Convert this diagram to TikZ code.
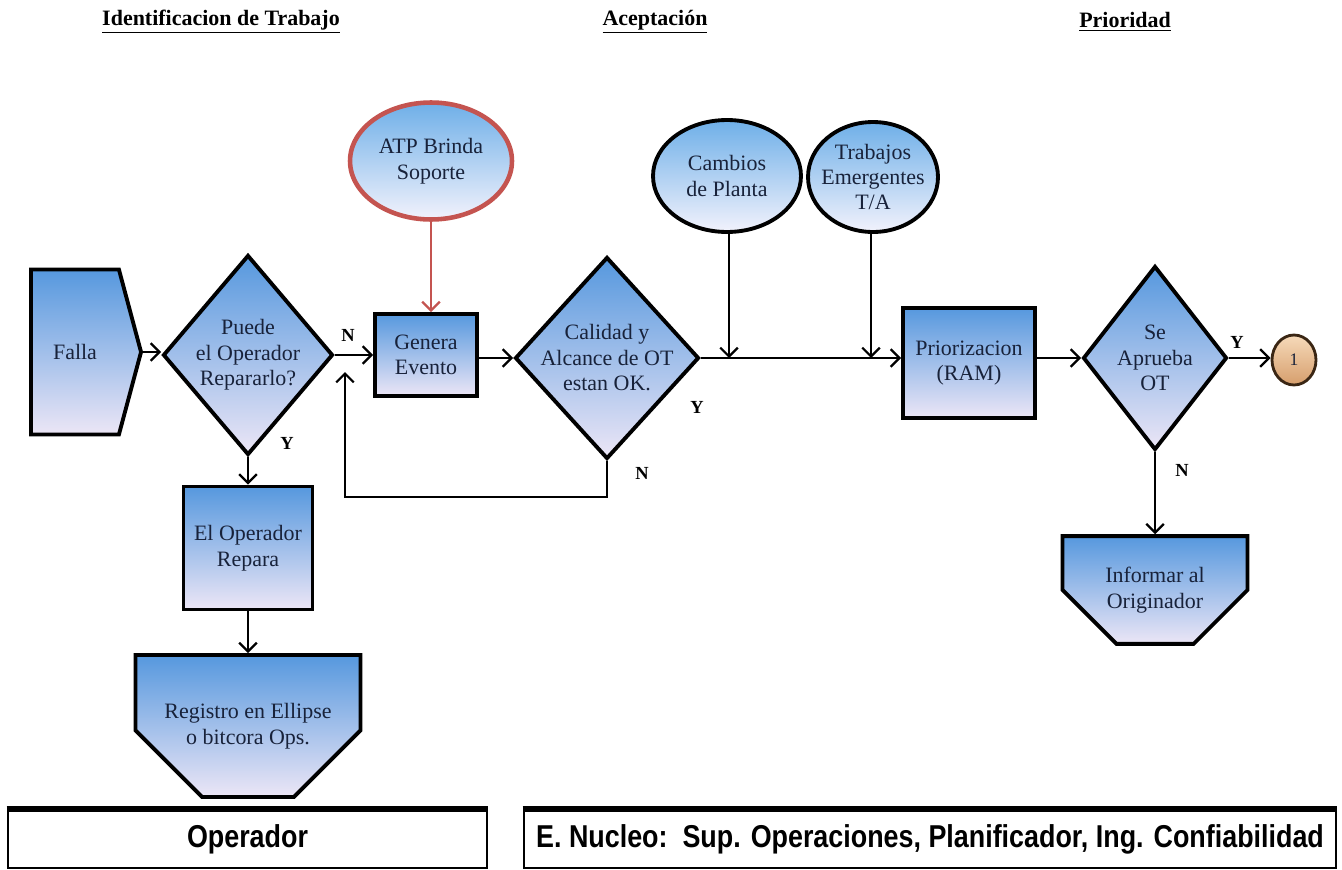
\documentclass[tikz,border=0pt]{standalone}
\usepackage{fontspec}
\setmainfont{Liberation Serif}
\newfontfamily\narrowsans[FakeStretch=0.85]{Liberation Sans}
\usetikzlibrary{arrows.meta,shapes.geometric,shapes.misc,shapes.symbols}
\definecolor{boxtop}{RGB}{86,152,222}
\definecolor{boxbot}{RGB}{236,230,246}
\definecolor{elltop}{RGB}{110,175,232}
\definecolor{ellbot}{RGB}{242,242,252}
\definecolor{txtnavy}{RGB}{24,34,58}
\definecolor{atpred}{RGB}{196,84,80}
\definecolor{conntop}{RGB}{246,218,186}
\definecolor{connbot}{RGB}{214,158,108}
\definecolor{connedge}{RGB}{58,38,20}

\begin{document}
\begin{tikzpicture}[x=0.02cm, y=-0.02cm, >={Straight Barb[length=5pt,width=10pt]},
	proc/.style={shape=rectangle, draw, line width=2.2pt, top color=boxtop, bottom color=boxbot, text=txtnavy, align=center, inner sep=0, font=\fontsize{12.5}{14.5}\selectfont},
	decision/.style={proc, shape=diamond, inner sep=-6pt},
	event/.style={proc, shape=ellipse, top color=elltop, bottom color=ellbot, inner sep=-6pt},
	conn/.style={->, line width=1.3pt},
	lbl/.style={font=\fontsize{10.5}{12}\selectfont\bfseries, text=black, inner sep=1pt},
	header/.style={font=\fontsize{12.5}{14}\selectfont\bfseries, inner sep=0},
	rolebox/.style={draw, line width=1.6pt, inner sep=0, font=\narrowsans\bfseries\fontsize{18}{20}\selectfont}]
				\useasboundingbox (0,0) rectangle (1342,869);
				\node[header] (hdrident) at (221,22) {\underline{Identificacion de Trabajo}};
				\node[header] (hdracept) at (655,22) {\underline{Aceptación}};
				\node[header] (hdrprior) at (1125,22) {\underline{Prioridad}};
				\node[proc, shape=signal, signal to=east, signal from=nowhere, signal pointer angle=150, minimum width=2.2cm, minimum height=3.3cm] (falla) at (75,352) {Falla};
				\node[decision, minimum width=3.4cm, minimum height=4cm] (puede) at (248,355) {Puede\\el Operador\\Repararlo?};
				\node[proc, minimum width=2.04cm, minimum height=1.64cm] (genera) at (426,355) {Genera\\Evento};
				\node[event, draw=atpred, line width=2.6pt, minimum width=3.24cm, minimum height=2.34cm] (atp) at (431,161) {ATP Brinda\\Soporte};
				\node[decision, minimum width=3.68cm, minimum height=4.04cm] (calidad) at (607,358) {Calidad y\\Alcance de OT\\estan OK.};
				\node[event, minimum width=2.96cm, minimum height=2.24cm] (cambios) at (727,176) {Cambios\\de Planta};
				\node[event, minimum width=2.6cm, minimum height=2.2cm] (trabajos) at (873,177) {Trabajos\\Emergentes\\T/A};
				\node[proc, minimum width=2.64cm, minimum height=2.2cm] (prior) at (969,363) {Priorizacion\\(RAM)};
				\node[decision, minimum width=2.88cm, minimum height=3.68cm] (aprueba) at (1155,358) {Se\\Aprueba\\OT};
				\node[proc, shape=ellipse, top color=conntop, bottom color=connbot, draw=connedge, line width=1.6pt, minimum width=0.88cm, minimum height=1cm, font=\fontsize{10}{12}\selectfont] (uno) at (1294,360) {1};
				\node[proc, minimum width=2.58cm, minimum height=2.46cm] (repara) at (248,548) {El Operador\\Repara};
				\node[proc, shape=chamfered rectangle, chamfered rectangle corners={south east,south west}, chamfered rectangle xsep=1.08cm, chamfered rectangle ysep=0.88cm, minimum width=4.5cm, minimum height=2.84cm] (registro) at (248,726) {Registro en Ellipse\\o bitcora Ops.};
				\node[proc, shape=chamfered rectangle, chamfered rectangle corners={south east,south west}, chamfered rectangle xsep=0.86cm, chamfered rectangle ysep=0.62cm, minimum width=3.7cm, minimum height=1.92cm] (informar) at (1155,590) {Informar al\\Originador};
				\node[rolebox, minimum width=9.58cm, minimum height=1.16cm] (operador) at (247.5,839) {Operador};
				\node[rolebox, minimum width=16.24cm, minimum height=1.16cm] (nucleo) at (930,839) {E. Nucleo:\ \ Sup. Operaciones, Planificador, Ing. Confiabilidad};
				\draw[line width=3.5pt] (operador.north west) -- (operador.north east);
				\draw[line width=3.5pt] (nucleo.north west) -- (nucleo.north east);
				\coordinate (loopbot) at (345,497);
				\coordinate (loopend) at (345,372);
				\coordinate (cambiosjoin) at (729,358);
				\coordinate (trabajosjoin) at (871,358);
				\node[lbl] (npuede) at (348,335) {N};
				\node[lbl] (ypuede) at (287,443) {Y};
				\node[lbl] (ycalidad) at (697,407) {Y};
				\node[lbl] (ncalidad) at (642,473) {N};
				\node[lbl] (yaprueba) at (1237,342) {Y};
				\node[lbl] (naprueba) at (1182,470) {N};
				\draw[conn] (falla.east) to (puede.west |- falla.east);
				\draw[conn] (puede.east) to (genera.west |- puede.east);
				\draw[conn] (puede.south) to (repara.north);
				\draw[conn] (repara.south) to (registro.north);
				\draw[conn, draw=atpred] (atp.south) to (genera.north -| atp.south);
				\draw[conn] (genera.east |- calidad.west) to (calidad.west);
				\draw[conn] (calidad.south) |- (loopbot) -- (loopend);
				\draw[conn] (calidad.east) to (prior.west |- calidad.east);
				\draw[conn] (cambios.south -| cambiosjoin) to (cambiosjoin);
				\draw[conn] (trabajos.south -| trabajosjoin) to (trabajosjoin);
				\draw[conn] (prior.east |- aprueba.west) to (aprueba.west);
				\draw[conn] (aprueba.east) to (uno.west |- aprueba.east);
				\draw[conn] (aprueba.south) to (informar.north);
			\end{tikzpicture}
\end{document}
